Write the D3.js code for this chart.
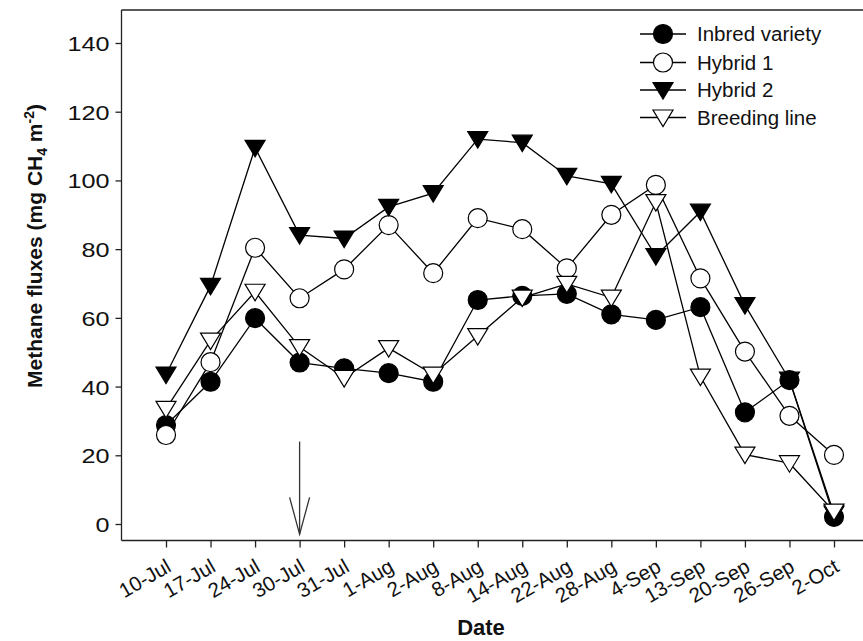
<!DOCTYPE html>
<html>
<head>
<meta charset="utf-8">
<script src="https://cdn.jsdelivr.net/npm/d3@7"></script>
<style>
  html, body { margin: 0; padding: 0; background: #fff; }
  svg { display: block; font-family: "Liberation Sans", Arial, sans-serif; }
</style>
</head>
<body>
<svg id="chart" width="863" height="641"></svg>
<script>
const dates = ["10-Jul","17-Jul","24-Jul","30-Jul","31-Jul","1-Aug","2-Aug","8-Aug","14-Aug","22-Aug","28-Aug","4-Sep","13-Sep","20-Sep","26-Sep","2-Oct"];
const inbred   = [28.8, 41.4, 59.9, 47.0, 45.3, 43.9, 41.4, 65.2, 66.4, 67.0, 61.0, 59.4, 63.1, 32.5, 41.9, 2.1];
const hybrid1  = [25.9, 47.1, 80.4, 65.7, 74.1, 87.0, 73.0, 89.0, 85.8, 74.4, 90.0, 98.7, 71.5, 50.2, 31.5, 20.1];
const hybrid2  = [43.5, 69.3, 109.5, 84.1, 83.1, 92.3, 96.3, 112.0, 111.0, 101.3, 99.0, 78.0, 90.9, 63.7, 42.0, 3.0];
const breeding = [33.5, 53.4, 67.6, 51.5, 42.5, 51.2, 43.5, 54.7, 65.9, 69.9, 65.9, 93.7, 42.9, 20.2, 17.7, 3.6];
const seriesNames = ["Inbred variety","Hybrid 1","Hybrid 2","Breeding line"];
const yTicks = [0,20,40,60,80,100,120,140];
const arrowDate = "30-Jul";
const arrowFrom = 24, arrowTo = -3;

const svg = d3.select("#chart");
const W = 863, H = 641;
const x = d3.scalePoint().domain(dates).range([166, 834]);
const y = d3.scaleLinear().domain([0, 140]).range([524, 43]);
const frameLeft = 121.5, frameTop = 10, frameBottom = 540.5;

const series = [
  {name: seriesNames[0], values: inbred,   shape: "circle",   fill: "#000"},
  {name: seriesNames[1], values: hybrid1,  shape: "circle",   fill: "#fff"},
  {name: seriesNames[2], values: hybrid2,  shape: "triangle", fill: "#000"},
  {name: seriesNames[3], values: breeding, shape: "triangle", fill: "#fff"}
];

// frame: top and left lines
svg.append("line").attr("x1", frameLeft).attr("x2", W).attr("y1", frameTop).attr("y2", frameTop)
  .attr("stroke", "#222").attr("stroke-width", 1.3);
svg.append("line").attr("x1", frameLeft).attr("x2", frameLeft).attr("y1", frameTop).attr("y2", frameBottom)
  .attr("stroke", "#222").attr("stroke-width", 1.3);

// y axis
const yAxis = d3.axisLeft(y).tickValues(yTicks).tickSize(6).tickFormat("");
const gy = svg.append("g").attr("transform", `translate(${frameLeft},0)`).call(yAxis);
gy.select(".domain").remove();
gy.selectAll(".tick line").attr("stroke", "#222").attr("stroke-width", 1.3);
gy.selectAll(".tick").append("text")
  .attr("text-anchor", "end")
  .attr("font-size", 21)
  .attr("fill", "#111")
  .attr("dy", "0.36em")
  .attr("transform", "translate(-12,0) scale(1.2,1)")
  .text(d => d);

// x axis
const xAxis = d3.axisBottom(x).tickSize(7).tickFormat("");
const gx = svg.append("g").attr("transform", `translate(0,${frameBottom})`).call(xAxis);
gx.select(".domain").remove();
gx.selectAll(".tick line").attr("stroke", "#222").attr("stroke-width", 1.3);
svg.append("line").attr("x1", frameLeft).attr("x2", W).attr("y1", frameBottom).attr("y2", frameBottom)
  .attr("stroke", "#222").attr("stroke-width", 1.3);
gx.selectAll(".tick").append("text")
  .attr("text-anchor", "end")
  .attr("font-size", 20.5)
  .attr("fill", "#111")
  .attr("transform", "translate(6,30) rotate(-30)")
  .text(d => d);

// axis titles
svg.append("text").attr("x", 481).attr("y", 635).attr("text-anchor", "middle")
  .attr("font-size", 22).attr("font-weight", "bold").attr("fill", "#111").text("Date");
const yt = svg.append("text").attr("transform", "translate(42,246) rotate(-90)")
  .attr("text-anchor", "middle").attr("font-size", 21).attr("font-weight", "bold").attr("fill", "#111");
yt.append("tspan").text("Methane fluxes (mg CH");
yt.append("tspan").attr("font-size", 14).attr("dy", 5).text("4");
yt.append("tspan").attr("dy", -5).text(" m");
yt.append("tspan").attr("font-size", 14).attr("dy", -8).text("-2");
yt.append("tspan").attr("dy", 8).text(")");

// arrow
const ax = x(arrowDate);
svg.append("line").attr("x1", ax).attr("x2", ax).attr("y1", y(arrowFrom)).attr("y2", y(arrowTo))
  .attr("stroke", "#333").attr("stroke-width", 1.3);
svg.append("path")
  .attr("d", `M${ax-10},${y(arrowTo)-37} L${ax},${y(arrowTo)} L${ax+10},${y(arrowTo)-37}`)
  .attr("fill", "none").attr("stroke", "#333").attr("stroke-width", 1.3);

// symbols
const R = 9.5;
function drawSymbol(g, shape, fill, cx, cy) {
  if (shape === "circle") {
    g.append("circle").attr("cx", cx).attr("cy", cy).attr("r", R)
      .attr("fill", fill).attr("stroke", "#000").attr("stroke-width", 1.2);
  } else {
    const hw = 10, ht = 7.5, hb = 9;
    g.append("path").attr("d", `M${cx-hw},${cy-ht} L${cx+hw},${cy-ht} L${cx},${cy+hb} Z`)
      .attr("fill", fill).attr("stroke", "#000").attr("stroke-width", 1.2).attr("stroke-linejoin", "miter");
  }
}

const line = d3.line().x((d, i) => x(dates[i])).y(d => y(d));
series.forEach(s => {
  const g = svg.append("g");
  g.append("path").attr("d", line(s.values)).attr("fill", "none")
    .attr("stroke", "#000").attr("stroke-width", 1.3);
  s.values.forEach((v, i) => drawSymbol(g, s.shape, s.fill, x(dates[i]), y(v)));
});

// legend
const legY = [34, 62.5, 90, 117.5];
series.forEach((s, i) => {
  const g = svg.append("g");
  g.append("line").attr("x1", 640).attr("x2", 686).attr("y1", legY[i]).attr("y2", legY[i])
    .attr("stroke", "#000").attr("stroke-width", 1.3);
  drawSymbol(g, s.shape, s.fill, 663, legY[i]);
  g.append("text").attr("x", 697).attr("y", legY[i] + 7).attr("font-size", 20.5)
    .attr("fill", "#111").text(s.name);
});
</script>
</body>
</html>
